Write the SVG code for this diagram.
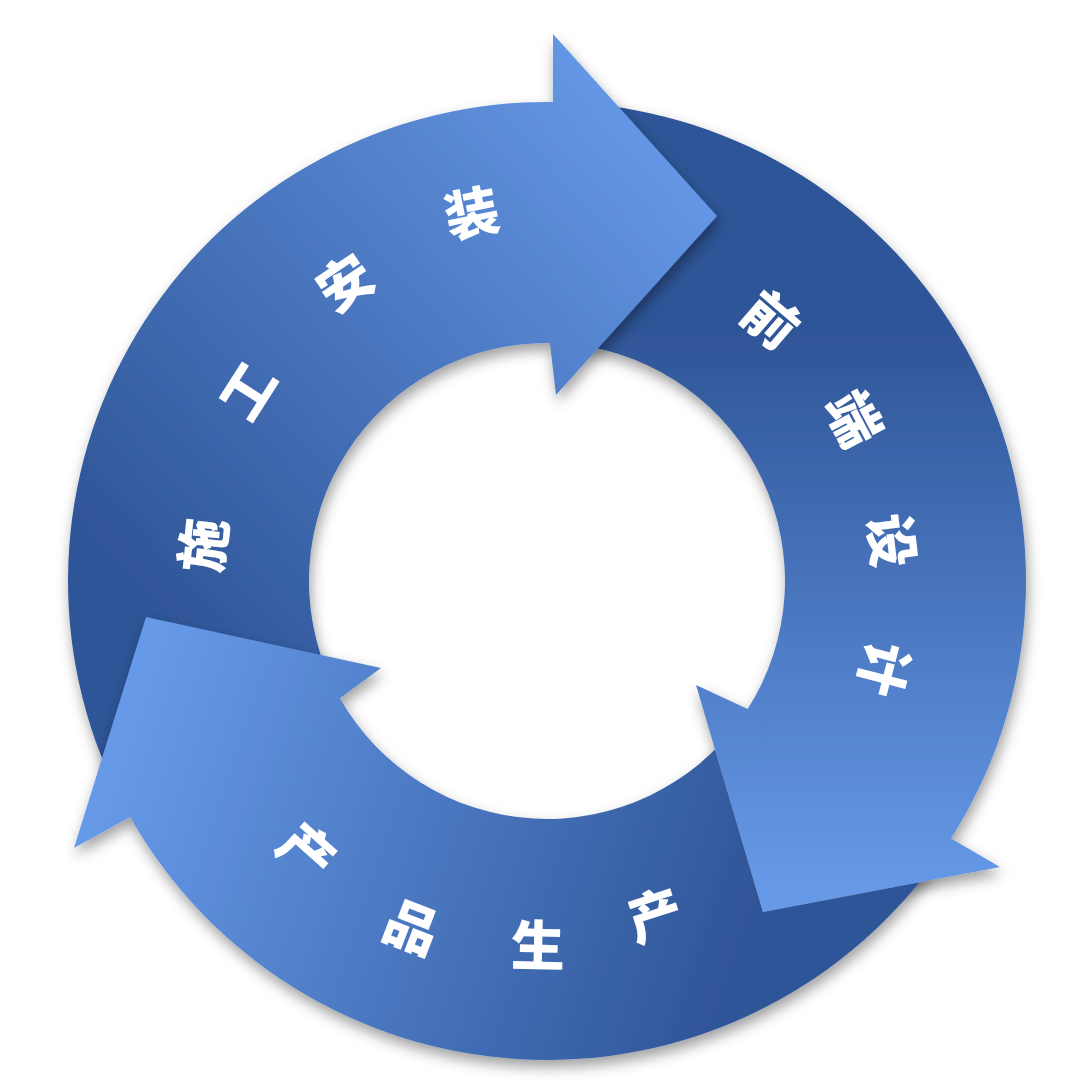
<svg xmlns="http://www.w3.org/2000/svg" width="1080" height="1088" viewBox="0 0 1080 1088">
  <defs>
    <style>
      .lbl { font-family: "Noto Sans CJK SC", "Noto Sans", sans-serif; font-weight: 900; font-size: 54px; fill: #FFFFFF; text-anchor: middle; dominant-baseline: central; }
      .arrow { filter: url(#shadow); }
    </style>
    <filter id="shadow" x="-20%" y="-20%" width="140%" height="140%">
      <feDropShadow dx="2" dy="7" stdDeviation="7" flood-color="#000000" flood-opacity="0.38"/>
    </filter>
    <linearGradient id="g1" gradientUnits="userSpaceOnUse" x1="170" y1="630" x2="700" y2="150">
      <stop offset="0" stop-color="#2F5597"/>
      <stop offset="1" stop-color="#6699E8"/>
    </linearGradient>
    <linearGradient id="g2" gradientUnits="userSpaceOnUse" x1="0" y1="330" x2="0" y2="890">
      <stop offset="0" stop-color="#2F5597"/>
      <stop offset="1" stop-color="#6699E8"/>
    </linearGradient>
    <linearGradient id="g3" gradientUnits="userSpaceOnUse" x1="760" y1="900" x2="140" y2="690">
      <stop offset="0" stop-color="#2F5597"/>
      <stop offset="1" stop-color="#6699E8"/>
    </linearGradient>
    <clipPath id="clip3">
      <path clip-rule="evenodd" d="M0,0 H1080 V1088 H0 Z M696,685 L1000,867 L763,912 Z"/>
    </clipPath>
  </defs>

  <g id="connectors">
    <path id="arrow-design" class="arrow" fill="url(#g2)" d="M605.4,105.6 A479,479 0 0 1 951,838.4 L1000,867 L763,912 L696,685 L747.7,708.9 A238,238 0 0 0 576,344.8 Z"/>
    <path id="arrow-install" class="arrow" fill="url(#g1)" d="M112.9,783.4 A479,479 0 0 1 552.9,102 L553,34 L717,216 L556,395 L549.9,343 A238,238 0 0 0 331.3,681.6 Z"/>
    <path id="arrow-production" class="arrow" fill="url(#g3)" clip-path="url(#clip3)" d="M934.5,862.5 A479,479 0 0 1 130.1,816.9 L74,848 L146,617 L381,668 L339.9,698.2 A238,238 0 0 0 739.5,720.9 Z"/>
  </g>

  <g id="node-install">
    <text class="lbl" transform="translate(200,545) rotate(-84)">施</text>
    <text class="lbl" transform="translate(245,389) rotate(-57.5)">工</text>
    <text class="lbl" transform="translate(343,280) rotate(-34)">安</text>
    <text class="lbl" transform="translate(471,210) rotate(-11.4)">装</text>
  </g>

  <g id="node-design">
    <text class="lbl" transform="translate(773,317) rotate(40.7)">前</text>
    <text class="lbl" transform="translate(857,417) rotate(62.2)">端</text>
    <text class="lbl" transform="translate(895,540) rotate(83.3)">设</text>
    <text class="lbl" transform="translate(887,670) rotate(104.6)">计</text>
  </g>

  <g id="node-production">
    <text class="lbl" transform="translate(309,849) rotate(41.5)">产</text>
    <text class="lbl" transform="translate(413,924) rotate(21)">品</text>
    <text class="lbl" transform="translate(538,942) rotate(1.3)">生</text>
    <text class="lbl" transform="translate(654,912) rotate(-18)">产</text>
  </g>
</svg>
